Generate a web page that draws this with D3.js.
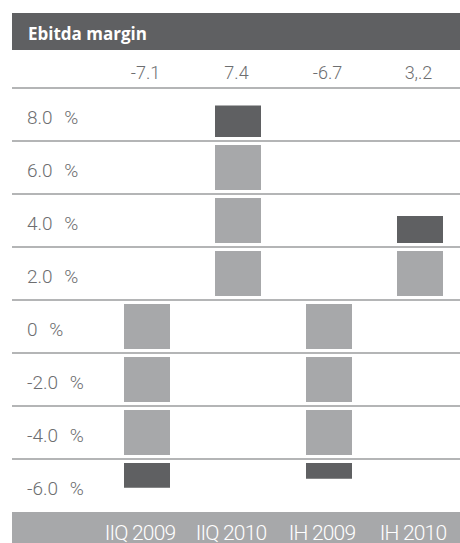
<!DOCTYPE html>
<html>
<head>
<meta charset="utf-8">
<script src="https://cdn.jsdelivr.net/npm/d3@7"></script>
<style>
  html, body { margin: 0; padding: 0; background: #fff; }
  svg { display: block; }
  text { font-family: Roboto, "Open Sans", sans-serif; }
</style>
</head>
<body>
<svg id="chart" width="460" height="543"></svg>
<script>
// ---- data ----
const title = "Ebitda margin";
const categories = ["IIQ 2009", "IIQ 2010", "IH 2009", "IH 2010"];
const values = [-7.1, 7.4, -6.7, 3.2];
const valueLabels = ["-7.1", "7.4", "-6.7", "3,.2"];
const tickValues = [8, 6, 4, 2, 0, -2, -4, -6];
const tickLabels = ["8.0 %", "6.0 %", "4.0 %", "2.0 %", "0 %", "-2.0 %", "-4.0 %", "-6.0 %"];

// ---- layout ----
const W = 460, H = 543;
const left = 12, right = 460;
const step = 2;            // one row per 2 %
const blockH = 45, inset = 4, barW = 46;
const colLight = "#a7a8aa", colDark = "#5f6062", txt = "#6d6e70";

const svg = d3.select("#chart");

const y = d3.scaleLinear().domain([-8, 8]).range([512, 88]);
const x = d3.scalePoint().domain(categories).range([147, 420]);
const blockScale = d3.scaleLinear().domain([0, step]).range([0, blockH]);

// header
svg.append("rect").attr("x", left).attr("y", 13).attr("width", right - left).attr("height", 37).attr("fill", "#5f6062");
svg.append("text").attr("x", 28).attr("y", 40).attr("fill", "#fff")
  .style("font-family", "'Open Sans', sans-serif")
  .attr("font-size", 17).attr("font-weight", 700).text(title);

// value labels
svg.selectAll("text.val").data(values).join("text").attr("class", "val")
  .attr("x", (d, i) => x(categories[i]) - 1.5)
  .attr("y", 78.5)
  .attr("text-anchor", "middle")
  .attr("fill", txt).attr("font-size", 18).attr("font-weight", 300)
  .text((d, i) => valueLabels[i]);

// gridlines (row tops)
svg.selectAll("line.grid").data(tickValues).join("line").attr("class", "grid")
  .attr("x1", left).attr("x2", right)
  .attr("y1", d => y(d)).attr("y2", d => y(d))
  .attr("stroke", "#6b6c6e").attr("stroke-width", 1.2);

// row labels
svg.selectAll("text.tick").data(tickValues).join("text").attr("class", "tick")
  .attr("x", 27).attr("y", d => y(d) + 36)
  .attr("fill", txt).attr("font-size", 19).attr("font-weight", 300)
  .text((d, i) => tickLabels[i].replace(" ", "\u2002\u200a"));

// blocks
const blocks = [];
categories.forEach((c, i) => {
  const v = values[i], s = Math.sign(v), a = Math.abs(v);
  const n = Math.floor(a / step);
  for (let k = 0; k < n; k++) {
    const hi = Math.max(s * k * step, s * (k + 1) * step);
    blocks.push({ c, top: y(hi), h: blockScale(step), dark: false, anchor: "top" });
  }
  const r = a - n * step;
  if (r > 0) {
    const lo = s * n * step;
    const hi = lo + s * step;
    const top = y(Math.max(lo, hi));
    blocks.push({ c, top, h: blockScale(r), dark: true, anchor: s > 0 ? "bottom" : "top" });
  }
});
svg.selectAll("rect.block").data(blocks).join("rect").attr("class", "block")
  .attr("x", d => x(d.c) - barW / 2)
  .attr("width", barW)
  .attr("y", d => d.anchor === "top" ? d.top + inset : d.top + inset + blockH - d.h)
  .attr("height", d => d.h)
  .attr("fill", d => d.dark ? colDark : colLight);

// footer with categories
svg.append("rect").attr("x", left).attr("y", y(-8)).attr("width", right - left).attr("height", H - y(-8)).attr("fill", colLight);
svg.selectAll("text.cat").data(categories).join("text").attr("class", "cat")
  .attr("x", d => x(d) - 7)
  .attr("y", 540)
  .attr("text-anchor", "middle")
  .attr("fill", "#fff").attr("font-size", 21).attr("font-weight", 300)
  .attr("letter-spacing", -0.8)
  .text(d => d);
</script>
</body>
</html>
